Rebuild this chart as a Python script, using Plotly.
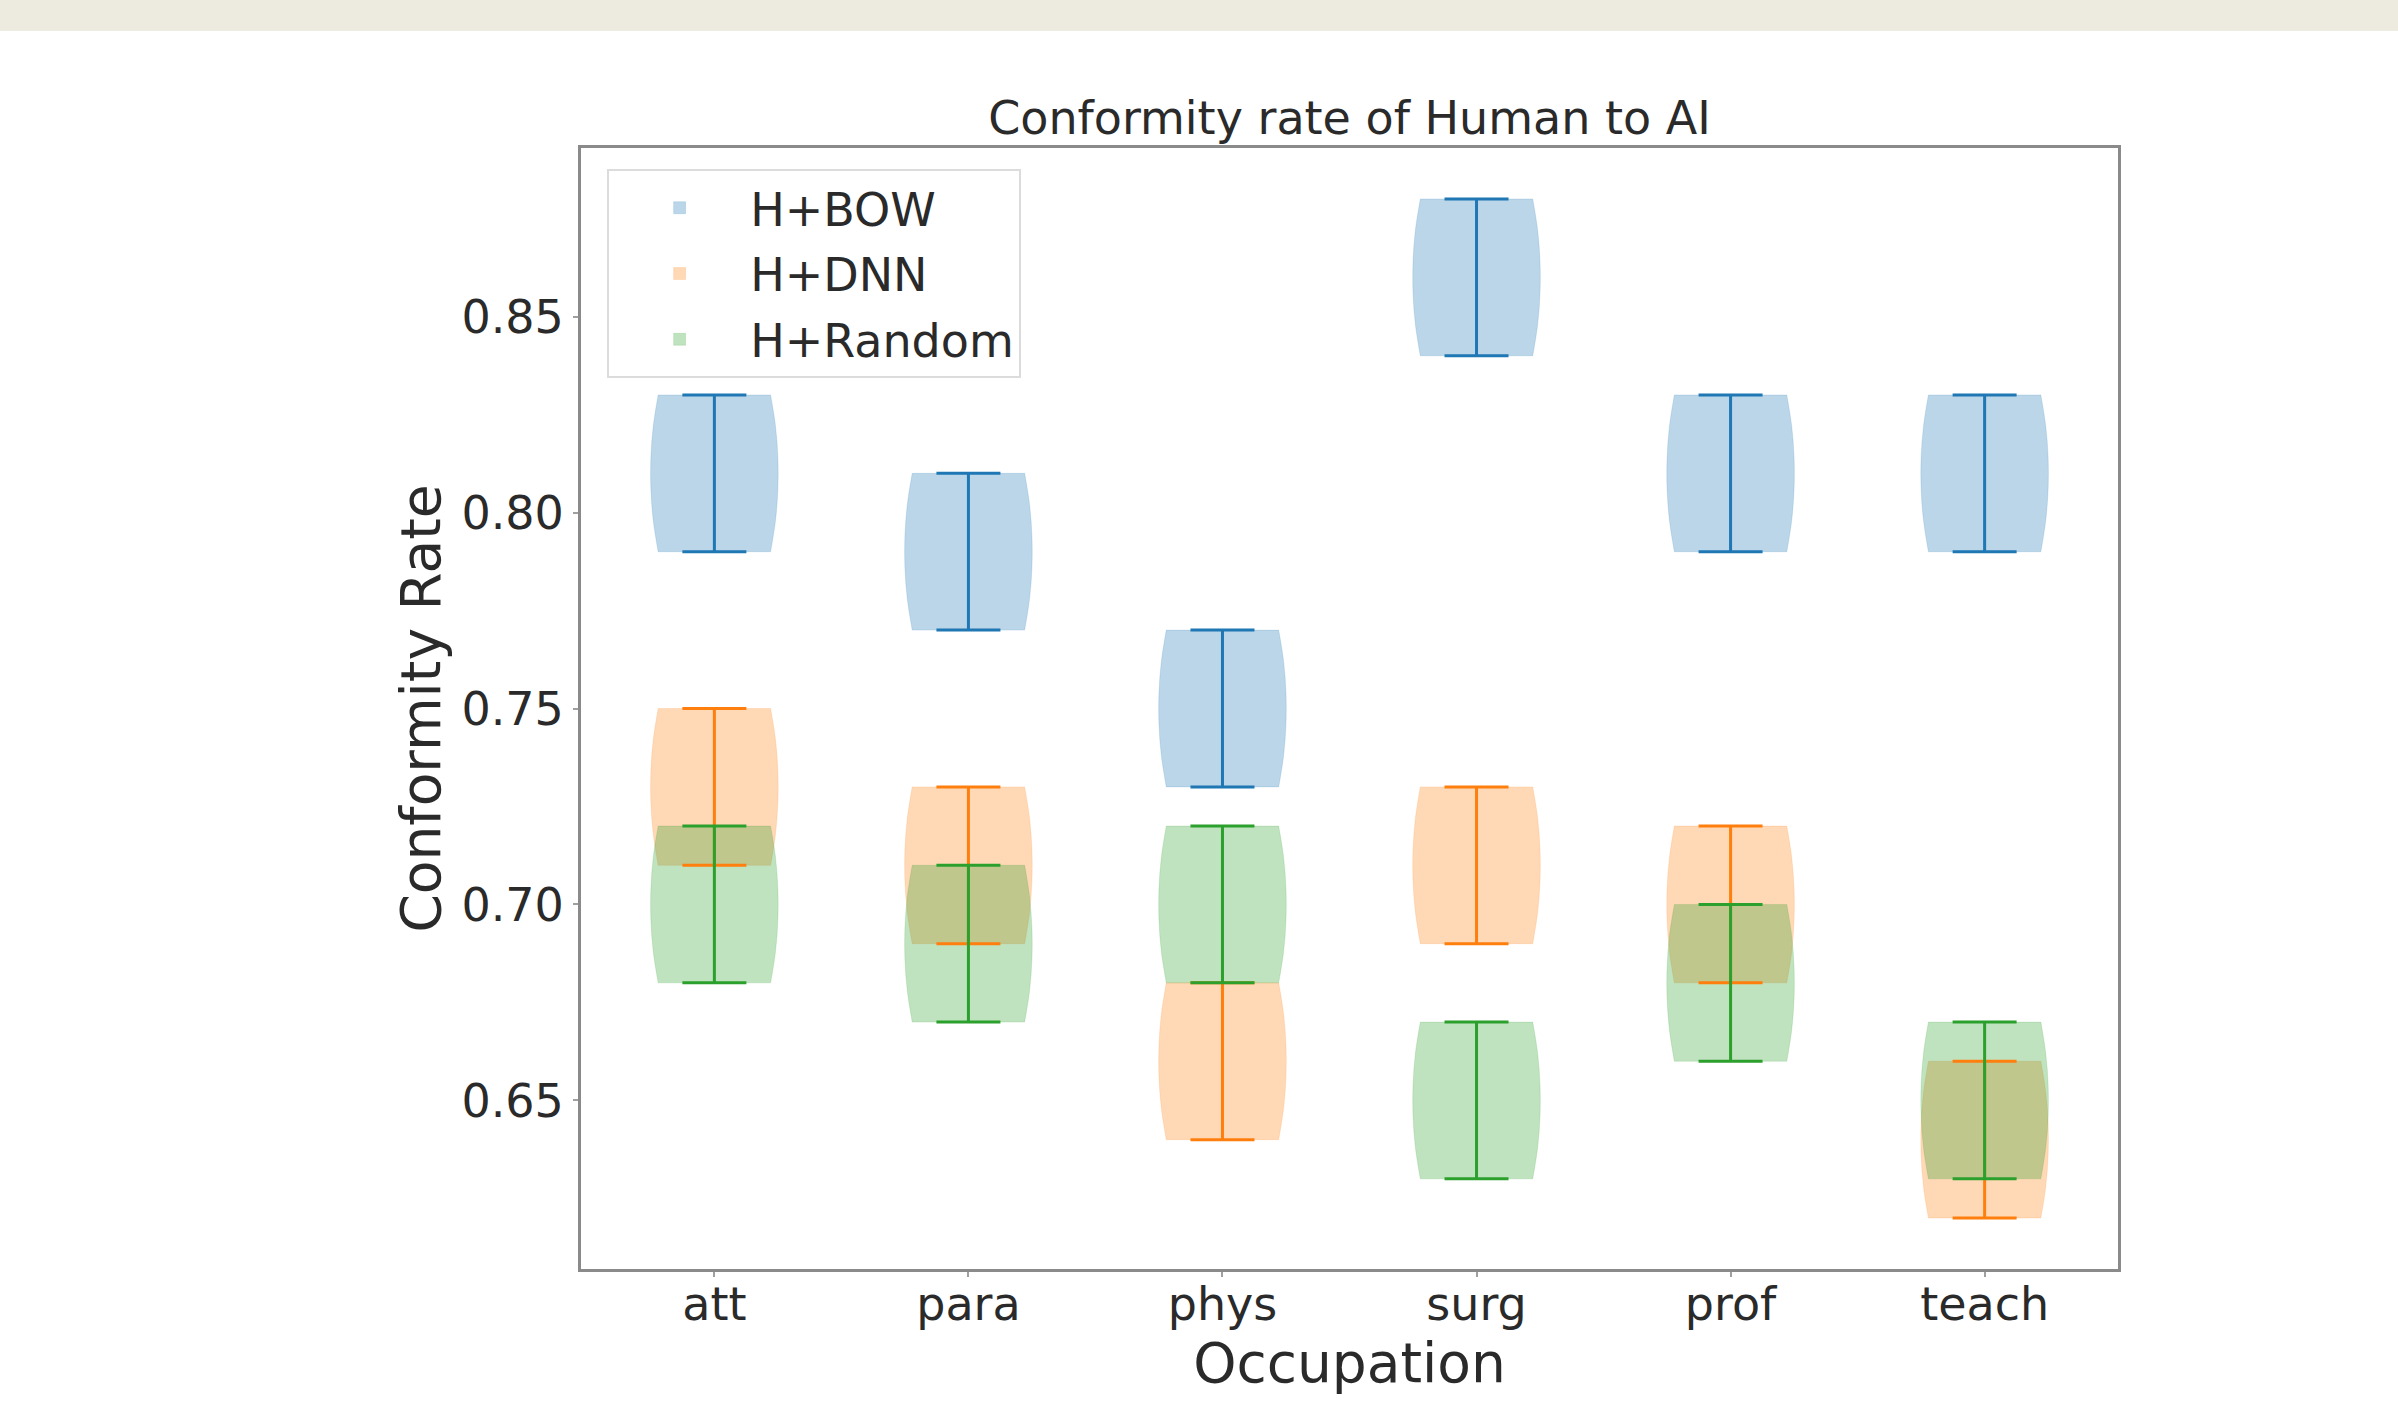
import numpy as np
import plotly.graph_objects as go

# ---- data ----
categories = ["att", "para", "phys", "surg", "prof", "teach"]
series_names = ["H+BOW", "H+DNN", "H+Random"]
bow_min = [0.79, 0.77, 0.73, 0.84, 0.79, 0.79]
bow_max = [0.83, 0.81, 0.77, 0.88, 0.83, 0.83]
dnn_min = [0.71, 0.69, 0.64, 0.69, 0.68, 0.62]
dnn_max = [0.75, 0.73, 0.68, 0.73, 0.72, 0.66]
rnd_min = [0.68, 0.67, 0.68, 0.63, 0.66, 0.63]
rnd_max = [0.72, 0.71, 0.72, 0.67, 0.70, 0.67]
y_ticks = [0.65, 0.70, 0.75, 0.80, 0.85]

# ---- style ----
W, H = 2398, 1418
ML, MR, MT, MB = 581, 280, 148, 149
colors = ["#1f77b4", "#ff7f0e", "#2ca02c"]
fills = ["rgba(31,119,180,0.3)", "rgba(255,127,14,0.3)", "rgba(44,160,44,0.3)"]
FONT = "DejaVu Sans"
TXT = "#2a2a2a"

fig = go.Figure()
series = [(bow_min, bow_max), (dnn_min, dnn_max), (rnd_min, rnd_max)]
for name, (mins, maxs), col, fill in zip(series_names, series, colors, fills):
    xs, ys = [], []
    for c, lo, hi in zip(categories, mins, maxs):
        xs += [c, c]
        ys += [lo, hi]
    vals = np.array([mins[0], maxs[0]])
    bw = float(np.std(vals, ddof=1) * len(vals) ** (-1 / 5))
    fig.add_trace(go.Violin(
        x=xs, y=ys, name=name, legendgroup=name, width=0.5, bandwidth=bw,
        spanmode="hard", scalemode="width", points=False,
        fillcolor=fill, line=dict(color=fill, width=0.5),
        box_visible=False, meanline_visible=False, showlegend=True,
    ))
for name, (mins, maxs), col in zip(series_names, series, colors):
    mids = [(a + b) / 2 for a, b in zip(mins, maxs)]
    halfs = [(b - a) / 2 for a, b in zip(mins, maxs)]
    fig.add_trace(go.Scatter(
        x=categories, y=mids, mode="markers", marker=dict(size=1, opacity=0),
        error_y=dict(type="data", array=halfs, symmetric=True, width=32,
                     thickness=3, color=col),
        showlegend=False, hoverinfo="skip", name=name, legendgroup=name,
    ))

pw = W - ML - MR
ph = H - MT - MB
fig.add_shape(type="rect", xref="paper", yref="paper",
              x0=-ML / pw - 0.01, x1=1 + MR / pw + 0.01,
              y0=1 + (MT - 31) / ph, y1=1 + MT / ph + 0.01,
              fillcolor="#EDEBE0", line=dict(width=0), layer="below")

axis_common = dict(showline=True, linecolor="#8a8a8a", linewidth=3, mirror=True,
                   ticks="outside", ticklen=5, tickwidth=2, tickcolor="#a0a0a0",
                   showgrid=False, zeroline=False,
                   tickfont=dict(family=FONT, size=46, color=TXT))

fig.update_layout(
    width=W, height=H,
    margin=dict(l=ML, r=MR, t=MT, b=MB),
    paper_bgcolor="white", plot_bgcolor="white",
    violinmode="overlay",
    font=dict(family=FONT, color=TXT),
    title=dict(text="Conformity rate of Human to AI", x=0.5, xanchor="center",
               xref="paper", y=1 - 118 / H, yref="container", yanchor="middle",
               font=dict(family=FONT, size=46, color=TXT)),
    xaxis=dict(axis_common, range=[-0.525, 5.525], type="category",
               categoryorder="array", categoryarray=categories,
               ticklabelstandoff=-12,
               title=dict(text="Occupation", standoff=6,
                          font=dict(family=FONT, size=55, color=TXT))),
    yaxis=dict(axis_common, range=[0.607, 0.893], tickvals=y_ticks, tickformat=".2f",
               title=dict(text="Conformity Rate", standoff=4,
                          font=dict(family=FONT, size=55, color=TXT))),
    legend=dict(x=0.017, y=0.981, xanchor="left", yanchor="top",
                bgcolor="rgba(255,255,255,0.8)", bordercolor="#dcdcdc", borderwidth=2,
                font=dict(family=FONT, size=46, color=TXT),
                traceorder="grouped", tracegroupgap=3, itemwidth=131,
                entrywidth=305, entrywidthmode="pixels"),
)

fig.write_html("out.html", config={"displayModeBar": False},
               post_script="document.body.style.margin='0px';")
